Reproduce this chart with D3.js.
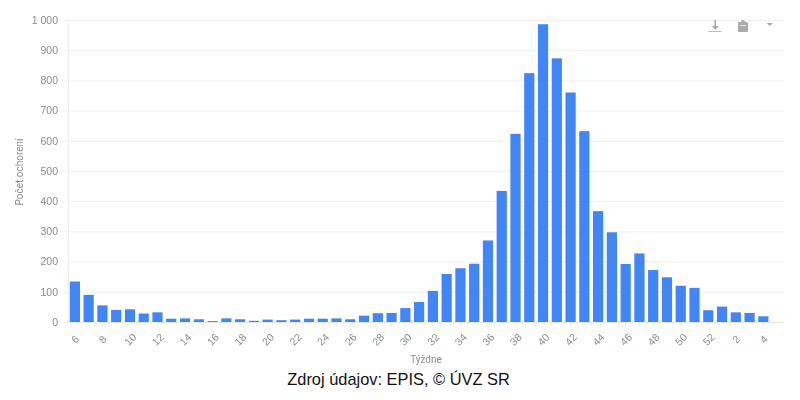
<!DOCTYPE html>
<html><head><meta charset="utf-8">
<script src="https://cdn.jsdelivr.net/npm/d3@7/dist/d3.min.js"></script>
<style>
html,body{margin:0;padding:0;background:#fff;width:800px;height:400px;overflow:hidden}
svg{display:block;font-family:"Roboto","Liberation Sans",sans-serif}
#plot{filter:blur(.6px)}
</style></head><body>
<svg id="c" width="800" height="400"></svg>
<script>
const weeks=["6","7","8","9","10","11","12","13","14","15","16","17","18","19","20","21","22","23","24","25","26","27","28","29","30","31","32","33","34","35","36","37","38","39","40","41","42","43","44","45","46","47","48","49","50","51","52","1","2","3","4","5"];
const cases=[134,90,55,40,42,28,32,11,12,9,3,12,9,4,8,6,8,11,11,12,9,21,29,30,46,66,103,159,178,193,270,434,623,824,986,873,760,632,367,297,192,227,172,148,120,113,39,51,32,30,19,null];
const yTicks=[0,100,200,300,400,500,600,700,800,900,1000];
const yTitle="Počet ochorení", xTitle="Týždne", source="Zdroj údajov: EPIS, © ÚVZ SR";
const m={l:68,r:784,t:20,b:322};
const svg=d3.select("#c");
const x=d3.scaleBand().domain(weeks).range([m.l,m.r]).paddingInner(.26).paddingOuter(.13);
const y=d3.scaleLinear().domain([0,1000]).range([m.b,m.t]);
const g=svg.append("g").attr("id","plot");
const textCol="#8c8c8c";
const ya=g.append("g").attr("transform",`translate(${m.l},0)`)
 .call(d3.axisLeft(y).tickValues(yTicks).tickSize(6).tickFormat(d=>d3.format(",")(d).replace(",","\u00a0")));
ya.select(".domain").attr("stroke","#f0f0f0");
ya.selectAll("line").attr("stroke","#f0f0f0");
ya.selectAll("text").attr("fill",textCol).attr("font-size",10.5).attr("x",-10);
g.append("g").selectAll("line").data(yTicks).join("line")
 .attr("x1",m.l).attr("x2",m.r).attr("y1",d=>y(d)+.5).attr("y2",d=>y(d)+.5)
 .attr("stroke",d=>d===0?"#e8e8e8":"#f1f1f1");
g.append("g").selectAll("rect").data(weeks.map((w,i)=>({w,v:cases[i]})).filter(d=>d.v!==null)).join("rect")
 .attr("x",d=>x(d.w)).attr("width",x.bandwidth())
 .attr("y",d=>y(d.v)).attr("height",d=>y(0)-y(d.v))
 .attr("fill","#4285f4");
const shown=weeks.filter((w,i)=>i%2===0&&i<weeks.length-1);
const xa=g.append("g").attr("transform",`translate(0,${m.b})`)
 .call(d3.axisBottom(x).tickValues(shown).tickSize(5).tickPadding(0));
xa.select(".domain").remove();
xa.selectAll("line").attr("stroke","#eeeeee");
xa.selectAll("text").attr("fill",textCol).attr("font-size",10.5)
 .attr("text-anchor","middle").attr("dy",0).attr("y",0)
 .attr("transform","translate(3,20) rotate(-45)");
g.append("text").attr("x",426).attr("y",363).attr("text-anchor","middle").attr("fill",textCol).attr("font-size",10).text(xTitle);
g.append("text").attr("transform","translate(23,172) rotate(-90)").attr("text-anchor","middle").attr("fill",textCol).attr("font-size",10).text(yTitle);
const ic=g.append("g").attr("fill","#ababab");
ic.append("path").attr("d","M714.4 20h1.6v6h2.4l-3.2 4-3.2-4h2.4z");
ic.append("rect").attr("x",708.5).attr("y",31).attr("width",13).attr("height",1).attr("fill","#bbb");
ic.append("path").attr("d","M738 23a1 1 0 0 1 1-1h2a2 2 0 0 1 4 0h2a1 1 0 0 1 1 1v8a1 1 0 0 1-1 1h-8a1 1 0 0 1-1-1z");
ic.append("rect").attr("x",740).attr("y",25).attr("width",6).attr("height",1).attr("fill","#e8e8e8");
ic.append("path").attr("d","M766.5 23h6.5l-3.25 3z");
svg.append("text").attr("x",398.5).attr("y",385).attr("text-anchor","middle")
 .attr("font-family","'Liberation Sans',Arial,sans-serif").attr("font-size",16.4).attr("fill","#111").text(source);
</script></body></html>
